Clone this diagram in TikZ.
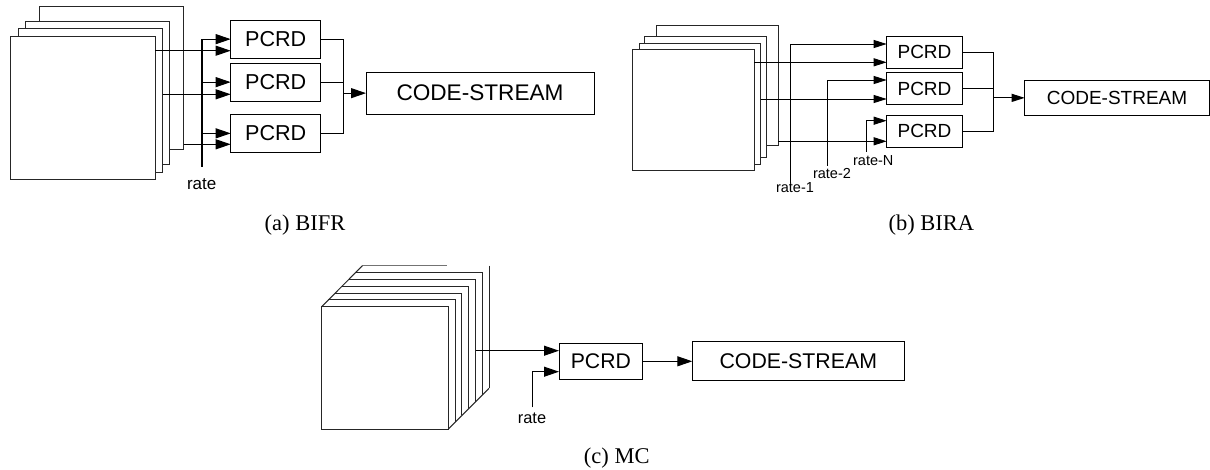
\documentclass[tikz,border=0pt]{standalone}
\usepackage{fontspec}
\setmainfont{Liberation Sans}
\newfontfamily\capfont{Liberation Serif}
\usetikzlibrary{arrows.meta,calc}
\begin{document}
\begin{tikzpicture}[x=1pt,y=-1pt,
  sqbox/.style={draw=black!85,fill=white,line width=1pt,inner sep=0pt,outer sep=0pt},
  blk/.style={draw,line width=1pt,fill=white,inner sep=0pt,outer sep=0pt},
  wire/.style={line width=1pt},
  arrA/.style={line width=1pt,-{Triangle[length=15pt,width=10pt]}},
  arrB/.style={line width=1pt,-{Triangle[length=13pt,width=8pt]}},
  lblA/.style={inner sep=0pt,font=\fontsize{17}{20}\selectfont},
  lblB/.style={inner sep=0pt,font=\fontsize{14.5}{17}\selectfont},
  lblC/.style={inner sep=0pt,font=\fontsize{16.4}{19}\selectfont},
  captext/.style={inner sep=0pt,anchor=base,font=\capfont\fontsize{22.5}{26}\selectfont},
  cubeline/.style={line width=1pt,draw=black!85}
]
\useasboundingbox (0,0) rectangle (1210,469);

% ================= (a) BIFR =================
\node[sqbox,minimum width=144.6pt,minimum height=143.3pt] (aS3) at (111.65,78.05) {};
\node[sqbox,minimum width=144.6pt,minimum height=143.3pt] (aS2) at (97.65,92.65) {};
\node[sqbox,minimum width=144.6pt,minimum height=143.3pt] (aS1) at (90.35,100.35) {};
\node[sqbox,minimum width=144.6pt,minimum height=143.3pt] (aS0) at (83,107.65) {};

\node[blk,minimum width=90pt,minimum height=38.3pt,font=\fontsize{21.6}{24}\selectfont] (aP1) at (275.7,39.15) {PCRD};
\node[blk,minimum width=90pt,minimum height=38.3pt,font=\fontsize{21.6}{24}\selectfont] (aP2) at (275.7,82.15) {PCRD};
\node[blk,minimum width=90pt,minimum height=38.3pt,font=\fontsize{21.6}{24}\selectfont] (aP3) at (275.7,133.35) {PCRD};
\node[blk,minimum width=228pt,minimum height=41.7pt,font=\fontsize{22.6}{25}\selectfont] (aCS) at (480,93.15) {CODE-STREAM};

\draw[arrA] (aS0.east |- 0,50.7) -- (aP1.west |- 0,50.7);
\draw[arrA] (aS1.east |- 0,94.3) -- (aP2.west |- 0,94.3);
\draw[arrA] (aS3.east |- 0,144.3) -- (aP3.west |- 0,144.3);

\coordinate (aR) at (201.7,166.7);
\node[lblA] (aRl) at (201.7,184) {rate};
\draw[line width=1.8pt] (aR) -- (aR |- aP1.west);
\draw[arrA] (aR |- aP1.west) -- (aP1.west);
\draw[arrA] (aR |- aP2.west) -- (aP2.west);
\draw[arrA] (aR |- aP3.west) -- (aP3.west);

\coordinate (aJ) at (343.3,93.15);
\draw[wire] (aP1.east) -- (aP1.east -| aJ) -- (aP3.east -| aJ) -- (aP3.east);
\draw[wire] (aP2.east) -- (aP2.east -| aJ);
\draw[arrA] (aJ) -- (aCS.west);

\node[captext] (capA) at (305,230.7) {(a) BIFR};

% ================= (b) BIRA =================
\node[sqbox,minimum width=121.7pt,minimum height=120.7pt] (bS3) at (717.55,85.35) {};
\node[sqbox,minimum width=121.7pt,minimum height=120.7pt] (bS2) at (705.15,97.05) {};
\node[sqbox,minimum width=121.7pt,minimum height=120.7pt] (bS1) at (699.85,103.65) {};
\node[sqbox,minimum width=121.7pt,minimum height=120.7pt] (bS0) at (693.15,109.65) {};

\node[blk,minimum width=75.6pt,minimum height=32pt,font=\fontsize{19}{22}\selectfont] (bP1) at (924.5,52) {PCRD};
\node[blk,minimum width=75.6pt,minimum height=32pt,font=\fontsize{19}{22}\selectfont] (bP2) at (924.5,88.55) {PCRD};
\node[blk,minimum width=75.6pt,minimum height=32pt,font=\fontsize{19}{22}\selectfont] (bP3) at (924.5,131.25) {PCRD};
\node[blk,minimum width=184.6pt,minimum height=35.7pt,font=\fontsize{19}{22}\selectfont] (bCS) at (1117,97.85) {CODE-STREAM};

\draw[arrB] (bS0.east |- 0,62.3) -- (bP1.west |- 0,62.3);
\draw[arrB] (bS1.east |- 0,99) -- (bP2.west |- 0,99);
\draw[arrB] (bS3.east |- 0,141.3) -- (bP3.west |- 0,141.3);

\coordinate (bR1) at (790,183.3);
\coordinate (bR2) at (827.3,165.7);
\coordinate (bR3) at (866.7,151.7);
\node[lblB] (bR1l) at (795,187.5) {rate-1};
\node[lblB] (bR2l) at (832,173.5) {rate-2};
\node[lblB] (bR3l) at (873.3,160.5) {rate-N};
\draw[arrB] (bR1) |- (bP1.west |- 0,44);
\draw[arrB] (bR2) |- (bP2.west |- 0,80);
\draw[arrB] (bR3) |- (bP3.west |- 0,120.7);

\coordinate (bJ) at (993.3,97.85);
\draw[wire] (bP1.east) -- (bP1.east -| bJ) -- (bP3.east -| bJ) -- (bP3.east);
\draw[wire] (bP2.east) -- (bP2.east -| bJ);
\draw[arrB] (bJ) -- (bCS.west);

\node[captext] (capB) at (931.4,230.7) {(b) BIRA};

% ================= (c) MC =================
\foreach \k in {1,...,5}{
  \draw[cubeline] (321.7+6.78*\k,306.7-6.83*\k) -- (448.3+6.78*\k,306.7-6.83*\k) -- (448.3+6.78*\k,429-6.83*\k);
}
\draw[line width=1pt,draw=black!55] (362.4,265.7) -- (446.7,265.7);
\draw[cubeline] (489,265.7) -- (489,388.3);
\node[sqbox,minimum width=126.6pt,minimum height=122.3pt] (cF) at (385,367.85) {};
\draw[cubeline] (cF.north west) -- (362.4,265.7);
\draw[cubeline] (cF.south east) -- (489,388.3);

\node[blk,minimum width=83.7pt,minimum height=36pt,font=\fontsize{21.2}{24}\selectfont] (cP) at (600.85,361.3) {PCRD};
\node[blk,minimum width=212pt,minimum height=39pt,font=\fontsize{21.3}{24}\selectfont] (cCS) at (798.3,361.2) {CODE-STREAM};

\coordinate (cO) at (475.7,350.7);
\draw[arrA] (cO) -- (cP.west |- cO);
\coordinate (cR) at (532.3,407.3);
\node[lblC] (cRl) at (532,418) {rate};
\draw[arrA] (cR) |- (cP.west |- 0,371.7);
\draw[arrA] (cP.east) -- (cCS.west |- cP.east);

\node[captext] (capC) at (616.7,463.3) {(c) MC};
\end{tikzpicture}
\end{document}
